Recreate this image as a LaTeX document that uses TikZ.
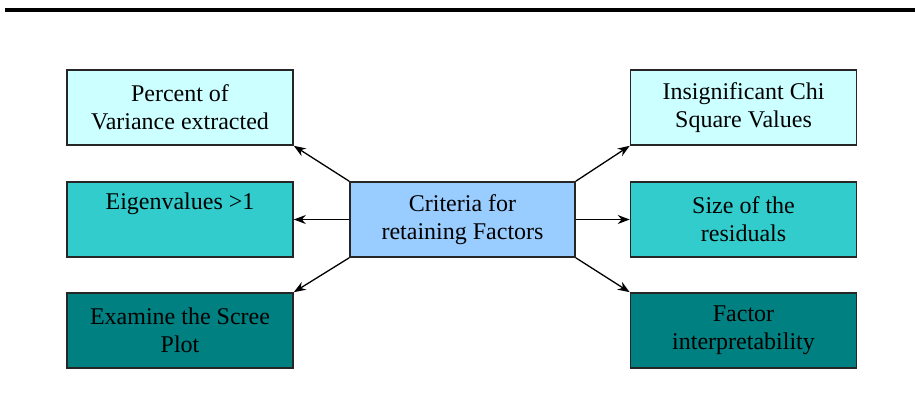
\documentclass[tikz,border=0pt]{standalone}
\usepackage{fontspec}
\setmainfont{Liberation Serif}
\usetikzlibrary{arrows.meta}

\begin{document}
\begin{tikzpicture}[x=1pt,y=-1pt]
\tikzstyle{crit}=[draw=black!85, line width=1.6pt, minimum width=226pt, minimum height=75pt,
  inner sep=0pt, align=center, font=\fontsize{24}{28}\selectfont, anchor=center]
\tikzstyle{pale}=[crit, fill={rgb,255:red,204;green,255;blue,255}]
\tikzstyle{mid}=[crit, fill={rgb,255:red,51;green,204;blue,204}]
\tikzstyle{deep}=[crit, fill={rgb,255:red,0;green,128;blue,128}]
\tikzstyle{hub}=[crit, minimum width=225pt, fill={rgb,255:red,153;green,204;blue,255}]
\tikzstyle{link}=[black, line width=1.3pt, -{Stealth[length=12pt,width=9pt]}]
\useasboundingbox (0,0) rectangle (915,399);
\draw [line width=4pt] (5,10) -- (915,10);
\node [hub] (crit) at (462.5,219.5) {Criteria for\\retaining Factors};
\node [pale] (var) at (180,107.5) {Percent of\\Variance extracted};
\node [mid] (eig) at (180,219.5) {Eigenvalues >1\\\strut};
\node [deep] (scree) at (180,330.5) {Examine the Scree\\Plot};
\node [pale] (chi) at (743.5,107.5) {Insignificant Chi\\Square Values};
\node [mid] (resid) at (743.5,219.5) {Size of the\\residuals};
\node [deep] (interp) at (743.5,330.5) {Factor\\interpretability};
\draw [link] (crit.north west) -- (var.south east);
\draw [link] (crit.west) -- (eig.east);
\draw [link] (crit.south west) -- (scree.north east);
\draw [link] (crit.north east) -- (chi.south west);
\draw [link] (crit.east) -- (resid.west);
\draw [link] (crit.south east) -- (interp.north west);
\end{tikzpicture}
\end{document}
